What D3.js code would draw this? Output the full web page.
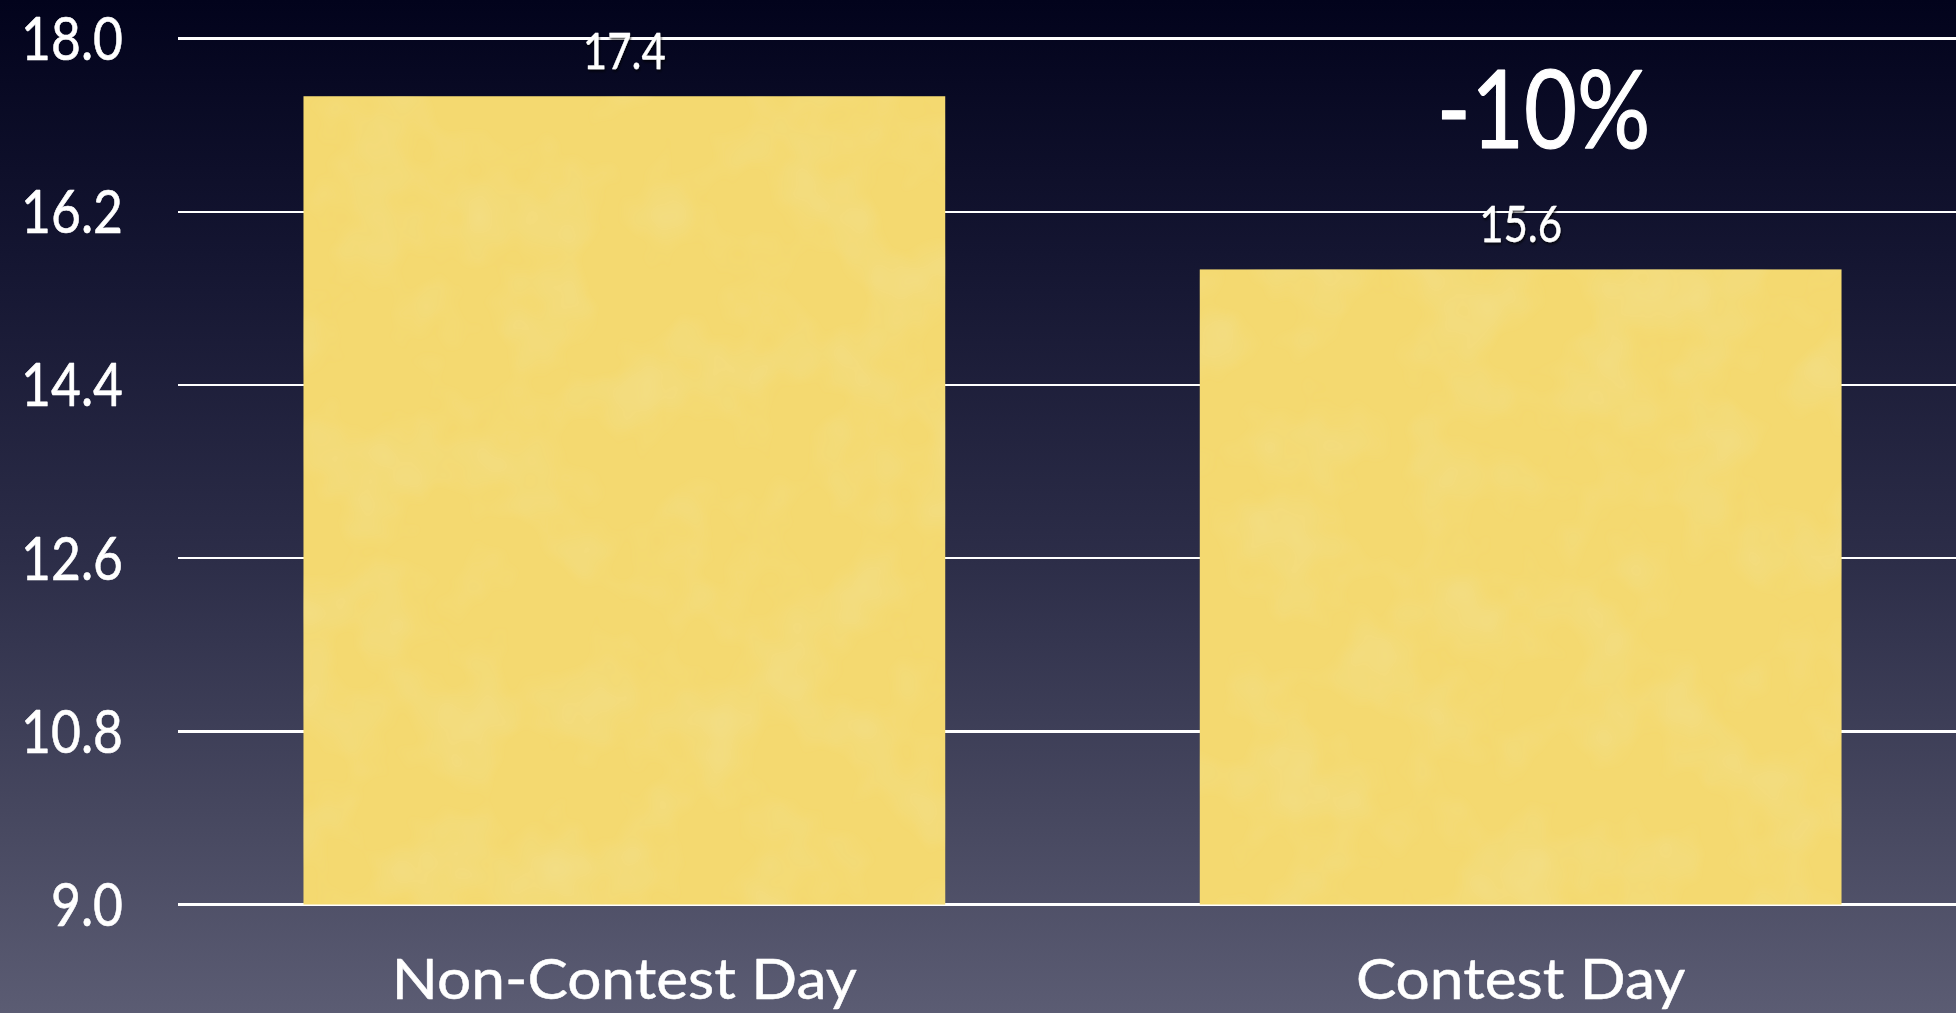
<!DOCTYPE html>
<html>
<head>
<meta charset="utf-8">
<script src="https://cdn.jsdelivr.net/npm/d3@7"></script>
<style>
  html, body { margin: 0; padding: 0; background: #2a2b44; overflow: hidden; }
  svg { display: block; }
  text { font-family: Lato, "Open Sans", sans-serif; fill: #ffffff; stroke: #ffffff; stroke-linejoin: round; }
</style>
</head>
<body>
<svg id="chart" width="1956" height="1013"></svg>
<script>
// Average value per day type
const categories = ["Non-Contest Day", "Contest Day"];
const values = [17.4, 15.6];
const tickValues = [9.0, 10.8, 12.6, 14.4, 16.2, 18.0];
const changeLabel = "-10%";

const W = 1956, H = 1013;
const svg = d3.select("#chart");
const defs = svg.append("defs");

// Slide background: deep navy at the top fading to slate at the bottom
const bg = defs.append("linearGradient").attr("id", "bg")
  .attr("x1", 0).attr("y1", 0).attr("x2", 0).attr("y2", 1);
[[0, "#02031c"], [0.25, "#141531"], [0.55, "#2c2d48"], [0.8, "#46475f"], [1, "#5b5c73"]]
  .forEach(([o, c]) => bg.append("stop").attr("offset", o).attr("stop-color", c));

// Mottled paper texture for the bars
const paper = defs.append("filter").attr("id", "paper")
  .attr("x", 0).attr("y", 0).attr("width", 1).attr("height", 1);
paper.append("feTurbulence").attr("type", "fractalNoise")
  .attr("baseFrequency", 0.012).attr("numOctaves", 3).attr("seed", 7).attr("result", "noise");
paper.append("feColorMatrix").attr("in", "noise").attr("type", "matrix")
  .attr("values", "0 0 0 0 0.88  0 0 0 0 0.76  0 0 0 0 0.30  0 0 0 -1.1 0.62")
  .attr("result", "tint");
paper.append("feComposite").attr("in", "tint").attr("in2", "SourceGraphic")
  .attr("operator", "in").attr("result", "tintClip");
paper.append("feMerge").selectAll("feMergeNode")
  .data(["SourceGraphic", "tintClip"]).join("feMergeNode").attr("in", d => d);

// Soft dark shadow under value labels
const shadow = defs.append("filter").attr("id", "shadow")
  .attr("x", "-20%").attr("y", "-20%").attr("width", "140%").attr("height", "160%");
shadow.append("feDropShadow").attr("dx", 1).attr("dy", 2).attr("stdDeviation", 1.5)
  .attr("flood-color", "#000").attr("flood-opacity", 0.75);

svg.append("rect").attr("width", W).attr("height", H).attr("fill", "url(#bg)");

// Scales
const x = d3.scaleBand().domain(categories)
  .range([178, 1967]).paddingInner(0.284).paddingOuter(0.14);
const y = d3.scaleLinear().domain([9, 18]).range([904.5, 38.5]);

const plotLeft = 178, plotRight = W;

// Horizontal gridlines
svg.append("g").selectAll("line").data(tickValues).join("line")
  .attr("x1", plotLeft).attr("x2", plotRight)
  .attr("y1", d => y(d)).attr("y2", d => y(d))
  .attr("stroke", "#ffffff").attr("stroke-width", 2.4)
  .attr("shape-rendering", "crispEdges");

// Y axis labels (numbers set slightly condensed)
const numSqueeze = 0.84;
svg.append("g").selectAll("text").data(tickValues).join("text")
  .attr("transform", d => `translate(123,${y(d) + 21.5}) scale(0.86,1)`)
  .attr("text-anchor", "end")
  .attr("font-size", 60)
  .attr("stroke-width", 0.6)
  .text(d3.format(".1f"));

// Bars
svg.append("g").selectAll("rect").data(values).join("rect")
  .attr("x", (d, i) => x(categories[i]))
  .attr("y", d => y(d))
  .attr("width", x.bandwidth())
  .attr("height", d => y(9) - y(d))
  .attr("fill", "#f4d970")
  .attr("filter", "url(#paper)");

// Value labels above bars
svg.append("g").selectAll("text").data(values).join("text")
  .attr("transform", (d, i) =>
    `translate(${x(categories[i]) + x.bandwidth() / 2},${y(d) - 27}) scale(${numSqueeze},1)`)
  .attr("text-anchor", "middle")
  .attr("font-size", 50)
  .attr("stroke-width", 0.3)
  .attr("filter", "url(#shadow)")
  .text(d => d.toFixed(1));

// Category labels
svg.append("g").selectAll("text").data(categories).join("text")
  .attr("transform", d => `translate(${x(d) + x.bandwidth() / 2},999) scale(1.06,1)`)
  .attr("text-anchor", "middle")
  .attr("font-size", 57)
  .attr("stroke-width", 0.5)
  .text(d => d);

// Percentage change annotation above the second bar
svg.append("text")
  .attr("transform", `translate(${x(categories[1]) + x.bandwidth() / 2 + 23},148) scale(${numSqueeze},1)`)
  .attr("text-anchor", "middle")
  .attr("font-size", 109)
  .attr("stroke-width", 1.2)
  .text(changeLabel);
</script>
</body>
</html>
